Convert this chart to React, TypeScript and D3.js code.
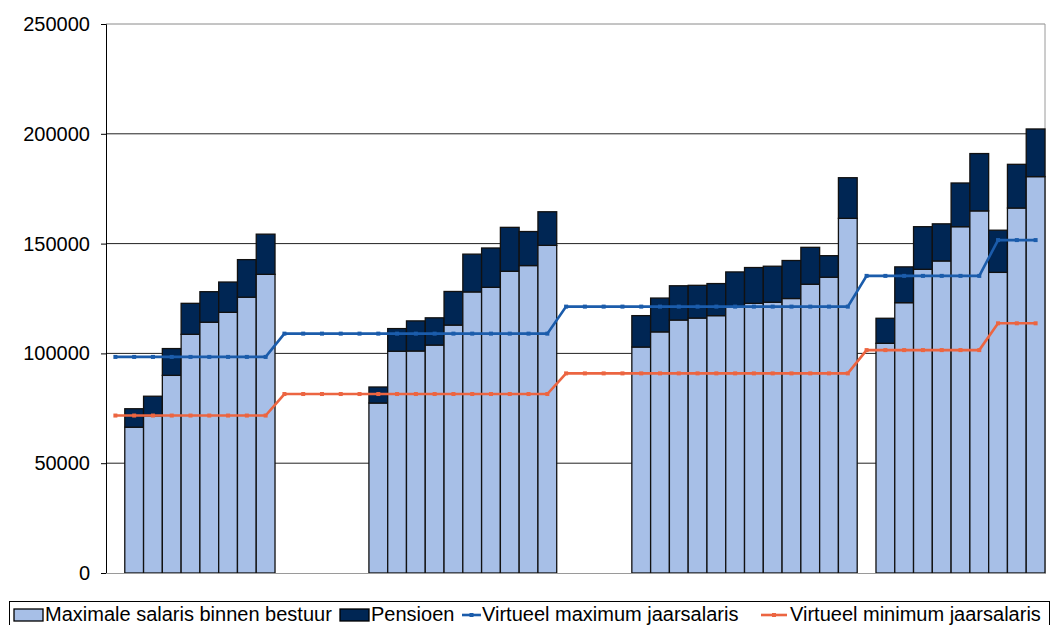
import React, { useEffect, useRef } from 'react'
import * as d3 from 'd3'

// 50 categories on the x axis, empty ones (null) between the groups
const salaris: (number | null)[] = [
  null,
  66400, 71600, 90000, 108700, 114200, 118700, 125600, 136000,
  null, null, null, null, null,
  77400, 101000, 101100, 103800, 112900, 128000, 130100, 137400, 140000, 149200,
  null, null, null, null,
  102900, 109800, 115200, 116100, 117200, 121000, 122800, 123300, 125000, 131500, 134700, 161500,
  null,
  104600, 123100, 138300, 142100, 157700, 164900, 136900, 166200, 180500,
]

const pensioen: (number | null)[] = [
  null,
  8400, 8900, 12200, 14100, 13900, 13800, 17100, 18300,
  null, null, null, null, null,
  7300, 10300, 13700, 12400, 15300, 17200, 17900, 20000, 15500, 15300,
  null, null, null, null,
  14300, 15400, 15600, 14900, 14600, 16100, 16300, 16400, 17300, 16800, 9800, 18500,
  null,
  11400, 16300, 19400, 16900, 19900, 26100, 19200, 19900, 21700,
]

const virtMax: number[] = [
  ...Array(9).fill(98400),
  ...Array(15).fill(109000),
  ...Array(16).fill(121300),
  ...Array(7).fill(135300),
  ...Array(3).fill(151600),
]

const virtMin: number[] = [
  ...Array(9).fill(71700),
  ...Array(15).fill(81500),
  ...Array(16).fill(90900),
  ...Array(7).fill(101500),
  ...Array(3).fill(113700),
]

const yTicks = [0, 50000, 100000, 150000, 200000, 250000]

const legendItems = [
  { label: 'Maximale salaris binnen bestuur', kind: 'rect', color: '#a7bfe7', x: 14, len: 29, tx: 45 },
  { label: 'Pensioen', kind: 'rect', color: '#002654', x: 340, len: 29, tx: 371 },
  { label: 'Virtueel maximum jaarsalaris', kind: 'line', color: '#1b5cab', x: 462, len: 19, tx: 482 },
  { label: 'Virtueel minimum jaarsalaris', kind: 'line', color: '#ec6541', x: 761, len: 26, tx: 790 },
]

const W = 1053
const H = 625
const FONT = '"Liberation Sans", Arial, sans-serif'

const App = () => {
  const svgRef = useRef<SVGSVGElement>(null)

  useEffect(() => {
    const svg = d3.select(svgRef.current)
    svg.selectAll('*').remove()

    const left = 106
    const right = 1045
    const top = 24
    const bottom = 573

    const x = d3
      .scaleBand<number>()
      .domain(d3.range(salaris.length))
      .range([left, right])
      .padding(0)

    const y = d3.scaleLinear().domain([0, 250000]).range([bottom, top])

    // gridlines
    svg
      .append('g')
      .selectAll('line')
      .data(yTicks.filter((t) => t > 0))
      .enter()
      .append('line')
      .attr('x1', left)
      .attr('x2', right)
      .attr('y1', (d) => y(d))
      .attr('y2', (d) => y(d))
      .attr('stroke', (d) => (d === 250000 ? '#8a8a8a' : '#222'))
      .attr('stroke-width', 1)

    // right border of plot area
    svg
      .append('line')
      .attr('x1', right)
      .attr('x2', right)
      .attr('y1', top)
      .attr('y2', bottom)
      .attr('stroke', '#9a9a9a')

    // stacked bars
    const barG = svg.append('g')
    salaris.forEach((v, i) => {
      if (v == null) return
      const p = pensioen[i] ?? 0
      barG
        .append('rect')
        .attr('x', x(i)!)
        .attr('y', y(v))
        .attr('width', x.bandwidth())
        .attr('height', y(0) - y(v))
        .attr('fill', '#a7bfe7')
        .attr('stroke', '#111')
        .attr('stroke-width', 1.3)
      barG
        .append('rect')
        .attr('x', x(i)!)
        .attr('y', y(v + p))
        .attr('width', x.bandwidth())
        .attr('height', y(v) - y(v + p))
        .attr('fill', '#002654')
        .attr('stroke', '#111')
        .attr('stroke-width', 1.3)
    })

    // y axis
    const yAxis = d3
      .axisLeft(y)
      .tickValues(yTicks)
      .tickSize(5)
      .tickPadding(11)
      .tickFormat((d) => String(d))
    const ax = svg
      .append('g')
      .attr('transform', `translate(${left},0)`)
      .call(yAxis)
    ax.select('.domain').attr('stroke', '#000')
    ax.selectAll('.tick line').attr('stroke', '#000')
    ax.selectAll('.tick text')
      .attr('font-family', FONT)
      .attr('font-size', 20)
      .attr('fill', '#000')

    // x axis baseline
    svg
      .append('line')
      .attr('x1', left)
      .attr('x2', right)
      .attr('y1', bottom + 0.5)
      .attr('y2', bottom + 0.5)
      .attr('stroke', '#9a9a9a')

    // lines
    const cx = (i: number) => x(i)! + x.bandwidth() / 2
    const drawLine = (vals: number[], color: string) => {
      const line = d3
        .line<number>()
        .x((_, i) => cx(i))
        .y((d) => y(d))
      svg
        .append('path')
        .datum(vals)
        .attr('d', line)
        .attr('fill', 'none')
        .attr('stroke', color)
        .attr('stroke-width', 2.6)
      svg
        .append('g')
        .selectAll('rect')
        .data(vals)
        .enter()
        .append('rect')
        .attr('x', (_, i) => cx(i) - 2)
        .attr('y', (d) => y(d) - 2)
        .attr('width', 4)
        .attr('height', 4)
        .attr('fill', color)
    }
    drawLine(virtMax, '#1b5cab')
    drawLine(virtMin, '#ec6541')

    // legend
    const lg = svg.append('g')
    lg.append('rect')
      .attr('x', 9.5)
      .attr('y', 601.5)
      .attr('width', 1040)
      .attr('height', 40)
      .attr('fill', '#fff')
      .attr('stroke', '#000')
      .attr('stroke-width', 1)
    legendItems.forEach((it) => {
      if (it.kind === 'rect') {
        lg.append('rect')
          .attr('x', it.x)
          .attr('y', 609)
          .attr('width', it.len)
          .attr('height', 12)
          .attr('fill', it.color)
          .attr('stroke', '#000')
          .attr('stroke-width', 1.3)
      } else {
        lg.append('line')
          .attr('x1', it.x)
          .attr('x2', it.x + it.len)
          .attr('y1', 615)
          .attr('y2', 615)
          .attr('stroke', it.color)
          .attr('stroke-width', 2.6)
        lg.append('rect')
          .attr('x', it.x + it.len / 2 - 2)
          .attr('y', 613)
          .attr('width', 4)
          .attr('height', 4)
          .attr('fill', it.color)
      }
      lg.append('text')
        .attr('x', it.tx)
        .attr('y', 620.6)
        .attr('font-family', FONT)
        .attr('font-size', 20)
        .attr('fill', '#000')
        .text(it.label)
    })
  }, [])

  return (
    <svg
      ref={svgRef}
      width={W}
      height={H}
      style={{ position: 'fixed', left: 0, top: 0, background: '#fff' }}
    ></svg>
  )
}

export default App
